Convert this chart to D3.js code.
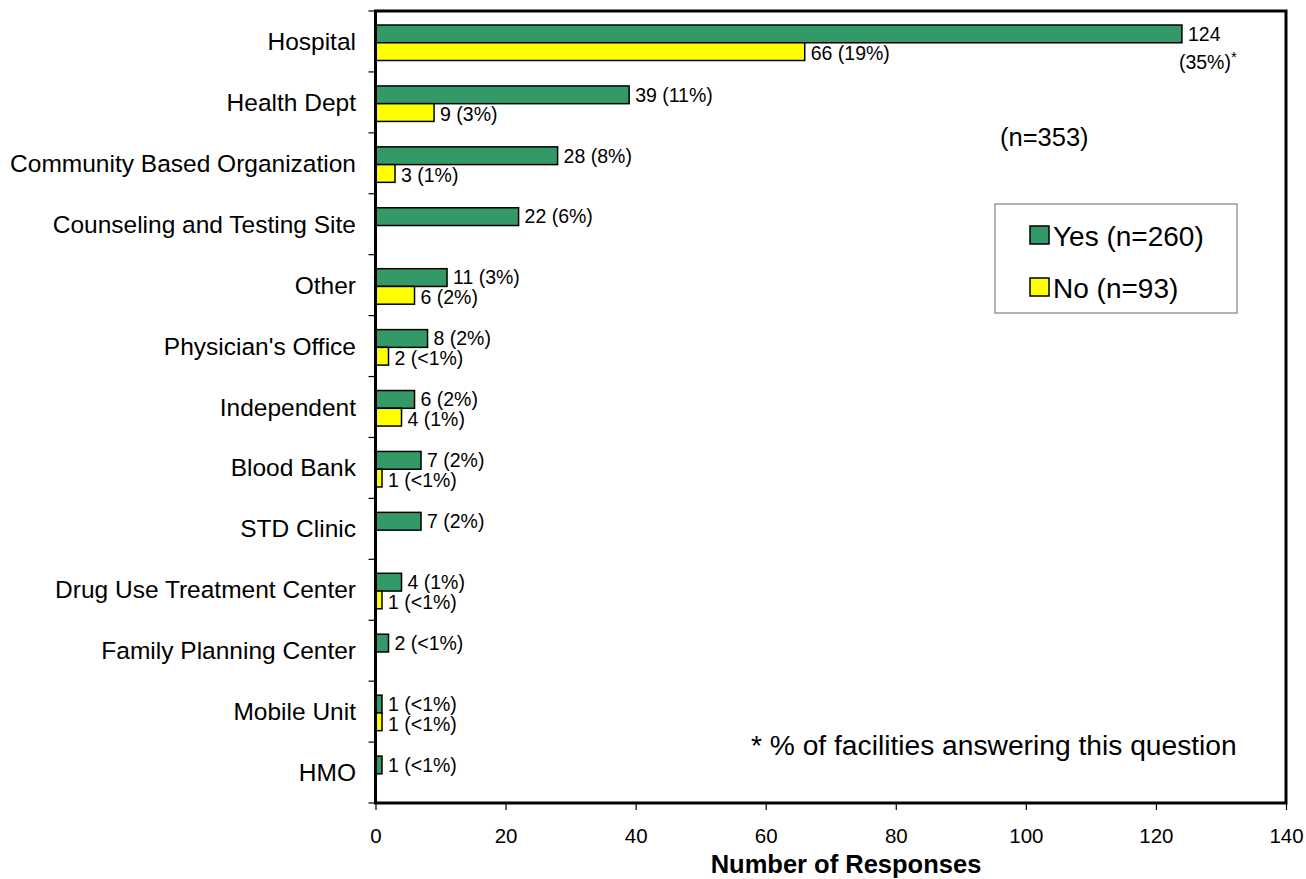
<!DOCTYPE html>
<html>
<head>
<meta charset="utf-8">
<script src="https://cdn.jsdelivr.net/npm/d3@7"></script>
<style>
  html, body { margin: 0; padding: 0; background: #fff; }
  text { font-family: "Liberation Sans", Arial, sans-serif; fill: #000; }
</style>
</head>
<body>
<svg id="chart" width="1306" height="879"></svg>
<script>
const categories = ["Hospital", "Health Dept", "Community Based Organization", "Counseling and Testing Site",
  "Other", "Physician's Office", "Independent", "Blood Bank", "STD Clinic",
  "Drug Use Treatment Center", "Family Planning Center", "Mobile Unit", "HMO"];
const yesValues = [124, 39, 28, 22, 11, 8, 6, 7, 7, 4, 2, 1, 1];
const noValues  = [66, 9, 3, null, 6, 2, 4, 1, null, 1, null, 1, null];
const yesPct = ["(35%)*", "(11%)", "(8%)", "(6%)", "(3%)", "(2%)", "(2%)", "(2%)", "(2%)", "(1%)", "(<1%)", "(<1%)", "(<1%)"];
const noPct  = ["(19%)", "(3%)", "(1%)", null, "(2%)", "(<1%)", "(1%)", "(<1%)", null, "(<1%)", null, "(<1%)", null];
const xTicks = [0, 20, 40, 60, 80, 100, 120, 140];
const seriesNames = ["Yes (n=260)", "No (n=93)"];
const seriesColors = ["#339966", "#FFFF00"];
const totalNote = "(n=353)";
const footnote = "* % of facilities answering this question";
const xTitle = "Number of Responses";

const svg = d3.select("#chart");
const pLeft = 375.5, pRight = 1286, pTop = 11, pBottom = 803;

const x = d3.scaleLinear().domain([0, 140]).range([pLeft, pRight]);
const y = d3.scaleBand().domain(categories).range([pTop, pBottom]).padding(0);
const y1 = d3.scaleBand().domain(["yes", "no"]).range([14, 49.5]).padding(0);

const rows = categories.map((c, i) => ({cat: c, yes: yesValues[i], no: noValues[i], yp: yesPct[i], np: noPct[i], i}));
const valFont = 19.5;

// bars
const g = svg.append("g");
rows.forEach(r => {
  const by = y(r.cat);
  [["yes", r.yes, 0], ["no", r.no, 1]].forEach(([k, v, si]) => {
    if (v == null) return;
    g.append("rect")
      .attr("x", x(0)).attr("y", by + y1(k))
      .attr("width", x(v) - x(0)).attr("height", y1.bandwidth())
      .attr("fill", seriesColors[si]).attr("stroke", "#000").attr("stroke-width", 1.5);
  });
});

// value labels
rows.forEach(r => {
  const by = y(r.cat);
  const yc = by + y1("yes") + y1.bandwidth() / 2;
  if (r.i === 0) {
    g.append("text").attr("x", x(r.yes) + 6).attr("y", yc).attr("dy", "0.35em")
      .attr("font-size", valFont).text(r.yes);
    const t = g.append("text").attr("x", x(r.yes) - 3).attr("y", yc + 28).attr("dy", "0.35em")
      .attr("font-size", valFont).text(r.yp.replace("*", ""));
    t.append("tspan").attr("dy", "-0.45em").attr("font-size", 15).text("*");
  } else {
    g.append("text").attr("x", x(r.yes) + 6).attr("y", yc).attr("dy", "0.35em")
      .attr("font-size", valFont).text(r.yes + " " + r.yp);
  }
  if (r.no != null) {
    const yn = by + y1("no") + y1.bandwidth() / 2;
    g.append("text").attr("x", x(r.no) + 6).attr("y", yn + 2).attr("dy", "0.35em")
      .attr("font-size", valFont).text(r.no + " " + r.np);
  }
});

// frame
svg.append("rect").attr("x", pLeft).attr("y", pTop).attr("width", pRight - pLeft).attr("height", pBottom - pTop)
  .attr("fill", "none").attr("stroke", "#000").attr("stroke-width", 3);

// y axis ticks & labels
const yTickPos = categories.map(c => y(c)).concat([pBottom]);
svg.append("g").selectAll("line").data(yTickPos).join("line")
  .attr("x1", pLeft - 7).attr("x2", pLeft).attr("y1", d => d).attr("y2", d => d)
  .attr("stroke", "#000").attr("stroke-width", 1.2);
svg.append("g").selectAll("text").data(categories).join("text")
  .attr("x", 356).attr("y", d => y(d) + y.bandwidth() / 2).attr("dy", "0.35em")
  .attr("text-anchor", "end").attr("font-size", 24.5).text(d => d);

// x axis
const xAxis = d3.axisBottom(x).tickValues(xTicks).tickSize(7).tickPadding(18);
const xg = svg.append("g").attr("transform", `translate(0,${pBottom})`).call(xAxis);
xg.select(".domain").remove();
xg.selectAll("line").attr("stroke", "#000").attr("stroke-width", 1.2);
xg.selectAll("text").attr("font-size", 20.5).attr("font-family", '"Liberation Sans", Arial, sans-serif').attr("fill", "#000");

svg.append("text").attr("x", 846).attr("y", 873)
  .attr("text-anchor", "middle").attr("font-size", 25.5).attr("font-weight", "bold").text(xTitle);

// n note
svg.append("text").attr("x", 1000).attr("y", 137).attr("dy", "0.35em").attr("font-size", 25.5).text(totalNote);

// legend
const lg = svg.append("g");
lg.append("rect").attr("x", 995).attr("y", 204).attr("width", 242).attr("height", 109)
  .attr("fill", "#fff").attr("stroke", "#808080").attr("stroke-width", 1.2);
seriesNames.forEach((s, i) => {
  const cy = 235 + i * 52;
  lg.append("rect").attr("x", 1030).attr("y", cy - 9).attr("width", 19).attr("height", 18)
    .attr("fill", seriesColors[i]).attr("stroke", "#000").attr("stroke-width", 1.5);
  lg.append("text").attr("x", 1053).attr("y", cy + 1).attr("dy", "0.35em").attr("font-size", 28).text(s);
});

// footnote
svg.append("text").attr("x", 751).attr("y", 745).attr("dy", "0.35em").attr("font-size", 28.2).text(footnote);
</script>
</body>
</html>
